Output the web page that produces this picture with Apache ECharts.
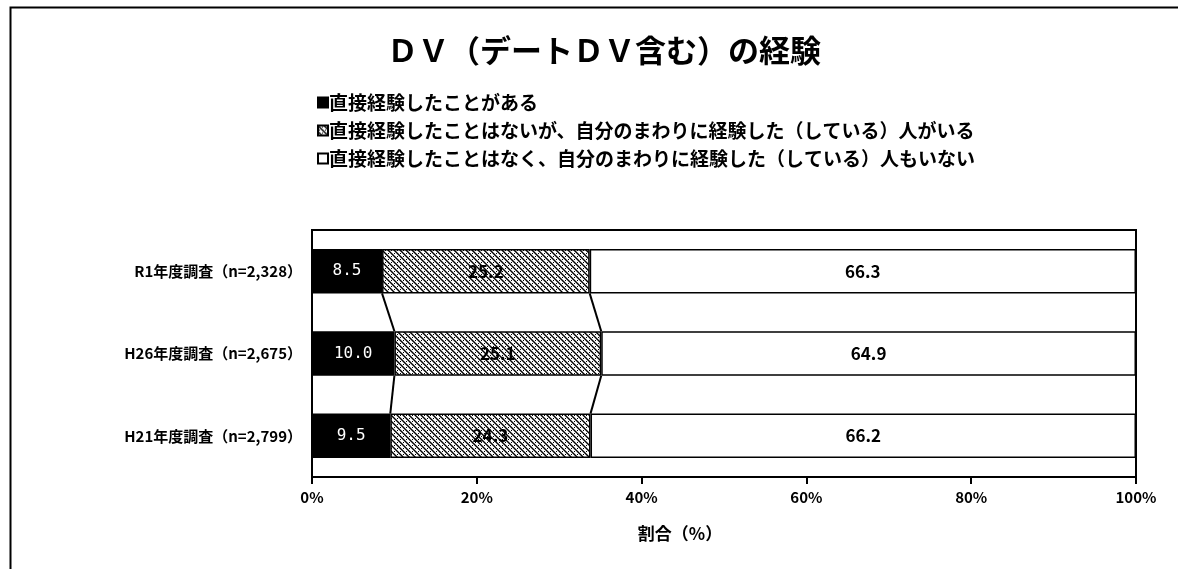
<!DOCTYPE html>
<html>
<head>
<meta charset="utf-8">
<script src="https://cdn.jsdelivr.net/npm/echarts@6/dist/echarts.min.js"></script>
<style>
  html, body { margin: 0; padding: 0; background: #fff; }
  #chart { width: 1178px; height: 569px; }
</style>
</head>
<body>
<div id="chart"></div>
<script>
const categories = ['R1年度調査（n=2,328）', 'H26年度調査（n=2,675）', 'H21年度調査（n=2,799）'];
const seriesNames = [
    '直接経験したことがある',
    '直接経験したことはないが、自分のまわりに経験した（している）人がいる',
    '直接経験したことはなく、自分のまわりに経験した（している）人もいない'
];
const experienced = [8.5, 10.0, 9.5];
const aroundMe = [25.2, 25.1, 24.3];
const noneAround = [66.3, 64.9, 66.2];
const xTicks = [0, 20, 40, 60, 80, 100];

const FONT = '"Noto Sans CJK JP", "Noto Sans", sans-serif';
const BAR_RATIO = 0.54;

// hatch + dots pattern for the middle series
function makePattern() {
    const c = document.createElement('canvas');
    c.width = 6; c.height = 6;
    const g = c.getContext('2d');
    g.fillStyle = '#fff';
    g.fillRect(0, 0, 6, 6);
    g.strokeStyle = '#000';
    g.lineWidth = 1.4;
    g.beginPath();
    g.moveTo(-1, -1); g.lineTo(7, 7);
    g.moveTo(-4, 2); g.lineTo(4, 10);
    g.moveTo(2, -4); g.lineTo(10, 4);
    g.stroke();
    g.fillStyle = '#000';
    g.fillRect(4, 1, 1, 1);
    g.fillRect(1, 4, 1, 1);
    return c;
}
const pattern = { image: makePattern(), repeat: 'repeat' };

// cumulative boundaries for the connecting series lines
const cum1 = experienced;
const cum2 = experienced.map((v, i) => v + aroundMe[i]);
const linkData = [];
for (let i = 0; i < categories.length - 1; i++) {
    linkData.push([i, cum1[i], cum1[i + 1], cum2[i], cum2[i + 1]]);
}

const fmt = p => Number(p.value).toFixed(1);

const chart = echarts.init(document.getElementById('chart'));
chart.setOption({
    animation: false,
    textStyle: { fontFamily: FONT },
    title: {
        text: 'ＤＶ（デートＤＶ含む）の経験',
        left: 382,
        top: 30,
        textStyle: { fontSize: 31, fontWeight: 'bold', color: '#000', fontFamily: FONT }
    },
    legend: {
        orient: 'vertical',
        left: 312,
        top: 88,
        itemWidth: 10,
        itemHeight: 10,
        itemGap: 9,
        icon: 'rect',
        textStyle: { fontSize: 19, fontWeight: 'bold', color: '#000', padding: [0, 0, 0, -4] },
        data: seriesNames
    },
    grid: {
        left: 312, right: 42, top: 230, bottom: 92,
        show: true, borderColor: '#000', borderWidth: 2, backgroundColor: '#fff'
    },
    xAxis: {
        type: 'value',
        min: 0, max: 100, interval: 20,
        axisLine: { show: true, lineStyle: { color: '#000', width: 2 } },
        axisTick: { show: true, length: 7, lineStyle: { color: '#000', width: 2 } },
        splitLine: { show: false },
        axisLabel: {
            formatter: v => xTicks.includes(v) ? v + '%' : '',
            color: '#000', fontSize: 15, fontWeight: 'bold', margin: 13
        },
        name: '割合（%）',
        nameLocation: 'middle',
        nameGap: 48,
        nameTextStyle: { color: '#000', fontSize: 17, fontWeight: 'bold', padding: [0, 88, 0, 0] }
    },
    yAxis: {
        type: 'category',
        inverse: true,
        data: categories,
        axisLine: { show: true, lineStyle: { color: '#000', width: 2 } },
        axisTick: { show: false },
        axisLabel: { color: '#000', fontSize: 15, fontWeight: 'bold', margin: 10 }
    },
    series: [
        {
            name: seriesNames[0], type: 'bar', stack: 'total', barWidth: (BAR_RATIO * 100) + '%',
            data: experienced,
            itemStyle: { color: '#000', borderColor: '#000', borderWidth: 1.5 },
            label: { show: true, position: 'inside', formatter: fmt, color: '#fff', fontSize: 16, fontFamily: '"DejaVu Sans Mono", monospace' }
        },
        {
            name: seriesNames[1], type: 'bar', stack: 'total',
            data: aroundMe,
            itemStyle: { color: pattern, borderColor: '#000', borderWidth: 1.5 },
            label: { show: true, position: 'inside', formatter: fmt, color: '#000', fontSize: 17, fontWeight: 'bold' }
        },
        {
            name: seriesNames[2], type: 'bar', stack: 'total',
            data: noneAround,
            itemStyle: { color: '#fff', borderColor: '#000', borderWidth: 1.5 },
            label: { show: true, position: 'inside', formatter: fmt, color: '#000', fontSize: 17, fontWeight: 'bold' }
        },
        {
            type: 'custom',
            silent: true,
            data: linkData,
            encode: { x: [1, 2, 3, 4], y: 0 },
            renderItem: function (params, api) {
                const i = api.value(0);
                const half = api.size([0, 1])[1] * BAR_RATIO / 2;
                const children = [];
                [[1, 2], [3, 4]].forEach(([a, b]) => {
                    const p1 = api.coord([api.value(a), i]);
                    const p2 = api.coord([api.value(b), i + 1]);
                    children.push({
                        type: 'line',
                        shape: { x1: p1[0], y1: p1[1] + half, x2: p2[0], y2: p2[1] - half },
                        style: { stroke: '#000', lineWidth: 2 }
                    });
                });
                return { type: 'group', children: children };
            },
            z: 5
        }
    ],
    graphic: [{
        type: 'rect',
        left: 8, top: 5,
        shape: { width: 1200, height: 600 },
        style: { fill: 'none', stroke: '#000', lineWidth: 2 },
        silent: true
    }]
});
</script>
</body>
</html>
